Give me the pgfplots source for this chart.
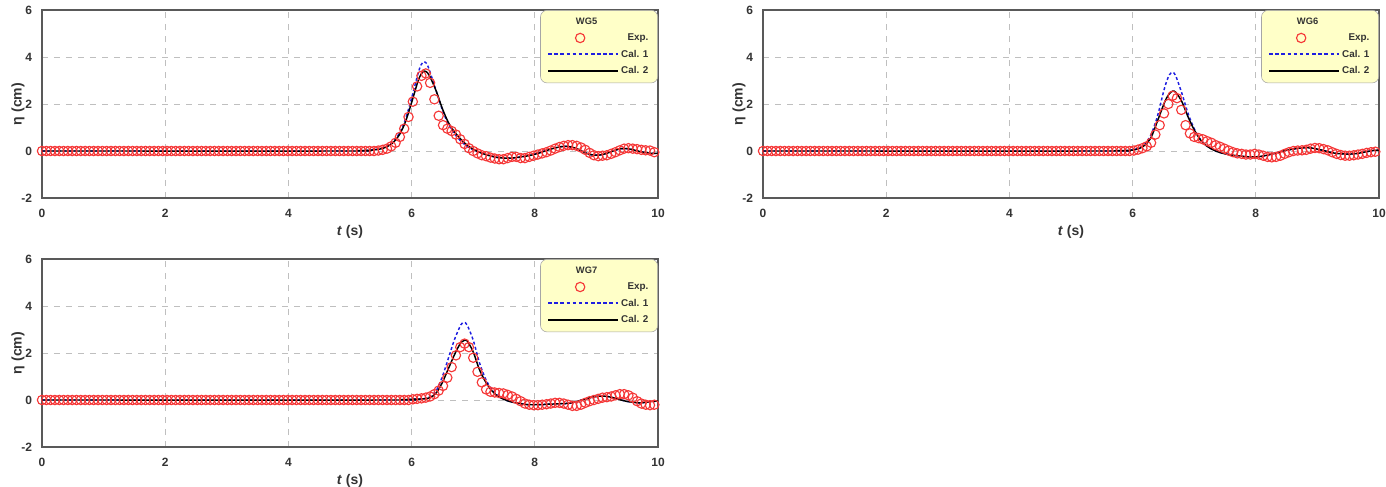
\documentclass[border=0pt]{standalone}
\usepackage{fontspec}
\setmainfont{Liberation Sans}
\usepackage{pgfplots}
\usepackage{pgfplotstable}
\pgfplotsset{compat=1.18}
\definecolor{expred}{RGB}{245,55,55}
\definecolor{calblue}{RGB}{30,30,225}
\definecolor{legfill}{RGB}{255,255,200}

\pgfplotstableread[row sep=\\]{
t y\\
0 0\\ 0.07 0\\ 0.14 0\\ 0.21 0\\ 0.28 0\\ 0.35 0\\ 0.42 0\\ 0.49 0\\ 0.56 0\\ 0.63 0\\
0.70 0\\ 0.77 0\\ 0.84 0\\ 0.91 0\\ 0.98 0\\ 1.05 0\\ 1.12 0\\ 1.19 0\\ 1.26 0\\ 1.33 0\\
1.40 0\\ 1.47 0\\ 1.54 0\\ 1.61 0\\ 1.68 0\\ 1.75 0\\ 1.82 0\\ 1.89 0\\ 1.96 0\\ 2.03 0\\
2.10 0\\ 2.17 0\\ 2.24 0\\ 2.31 0\\ 2.38 0\\ 2.45 0\\ 2.52 0\\ 2.59 0\\ 2.66 0\\ 2.73 0\\
2.80 0\\ 2.87 0\\ 2.94 0\\ 3.01 0\\ 3.08 0\\ 3.15 0\\ 3.22 0\\ 3.29 0\\ 3.36 0\\ 3.43 0\\
3.50 0\\ 3.57 0\\ 3.64 0\\ 3.71 0\\ 3.78 0\\ 3.85 0\\ 3.92 0\\ 3.99 0\\ 4.06 0\\ 4.13 0\\
4.20 0\\ 4.27 0\\ 4.34 0\\ 4.41 0\\ 4.48 0\\ 4.55 0\\ 4.62 0\\ 4.69 0\\ 4.76 0\\ 4.83 0\\
4.90 0\\ 4.97 0\\ 5.04 0\\ 5.11 0\\ 5.18 0\\ 5.25 0\\ 5.32 0\\
5.39 0\\ 5.46 0.02\\ 5.53 0.05\\ 5.60 0.1\\ 5.67 0.2\\ 5.74 0.35\\ 5.81 0.6\\ 5.88 0.95\\ 5.95 1.45\\ 6.02 2.1\\
6.09 2.75\\ 6.16 3.2\\ 6.23 3.3\\ 6.30 2.9\\ 6.37 2.2\\ 6.44 1.5\\ 6.51 1.1\\ 6.58 0.95\\ 6.65 0.85\\ 6.72 0.7\\
6.79 0.5\\ 6.86 0.3\\ 6.93 0.12\\ 7.00 0.0\\ 7.07 -0.1\\ 7.14 -0.18\\ 7.21 -0.22\\ 7.28 -0.28\\ 7.35 -0.32\\ 7.42 -0.35\\
7.49 -0.35\\ 7.56 -0.3\\ 7.63 -0.25\\ 7.70 -0.25\\ 7.77 -0.3\\ 7.84 -0.3\\ 7.91 -0.25\\ 7.98 -0.2\\ 8.05 -0.15\\ 8.12 -0.1\\
8.19 -0.05\\ 8.26 0.02\\ 8.33 0.1\\ 8.40 0.17\\ 8.47 0.22\\ 8.54 0.25\\ 8.61 0.25\\ 8.68 0.22\\ 8.75 0.15\\ 8.82 0.05\\
8.89 -0.08\\ 8.96 -0.18\\ 9.03 -0.22\\ 9.10 -0.2\\ 9.17 -0.18\\ 9.24 -0.12\\ 9.31 -0.05\\ 9.38 0.03\\ 9.45 0.1\\ 9.52 0.12\\
9.59 0.1\\ 9.66 0.08\\ 9.73 0.05\\ 9.80 0.03\\ 9.87 0.02\\ 9.94 -0.05\\
}\expA

\pgfplotstableread[row sep=\\]{
t y\\
0 0\\ 0.07 0\\ 0.14 0\\ 0.21 0\\ 0.28 0\\ 0.35 0\\ 0.42 0\\ 0.49 0\\ 0.56 0\\ 0.63 0\\
0.70 0\\ 0.77 0\\ 0.84 0\\ 0.91 0\\ 0.98 0\\ 1.05 0\\ 1.12 0\\ 1.19 0\\ 1.26 0\\ 1.33 0\\
1.40 0\\ 1.47 0\\ 1.54 0\\ 1.61 0\\ 1.68 0\\ 1.75 0\\ 1.82 0\\ 1.89 0\\ 1.96 0\\ 2.03 0\\
2.10 0\\ 2.17 0\\ 2.24 0\\ 2.31 0\\ 2.38 0\\ 2.45 0\\ 2.52 0\\ 2.59 0\\ 2.66 0\\ 2.73 0\\
2.80 0\\ 2.87 0\\ 2.94 0\\ 3.01 0\\ 3.08 0\\ 3.15 0\\ 3.22 0\\ 3.29 0\\ 3.36 0\\ 3.43 0\\
3.50 0\\ 3.57 0\\ 3.64 0\\ 3.71 0\\ 3.78 0\\ 3.85 0\\ 3.92 0\\ 3.99 0\\ 4.06 0\\ 4.13 0\\
4.20 0\\ 4.27 0\\ 4.34 0\\ 4.41 0\\ 4.48 0\\ 4.55 0\\ 4.62 0\\ 4.69 0\\ 4.76 0\\ 4.83 0\\
4.90 0\\ 4.97 0\\ 5.04 0\\ 5.11 0\\ 5.18 0\\ 5.25 0\\ 5.32 0\\ 5.39 0\\ 5.46 0\\ 5.53 0\\
5.60 0\\ 5.67 0\\ 5.74 0\\ 5.81 0\\ 5.88 0\\ 5.95 0\\
6.02 0.02\\ 6.09 0.06\\ 6.16 0.12\\ 6.23 0.2\\ 6.30 0.35\\ 6.37 0.7\\ 6.44 1.1\\ 6.51 1.6\\ 6.58 2.0\\ 6.65 2.35\\
6.72 2.25\\ 6.79 1.75\\ 6.86 1.1\\ 6.93 0.75\\ 7.00 0.6\\ 7.07 0.55\\ 7.14 0.5\\ 7.21 0.42\\ 7.28 0.35\\ 7.35 0.25\\
7.42 0.18\\ 7.49 0.1\\ 7.56 0.02\\ 7.63 -0.05\\ 7.70 -0.1\\ 7.77 -0.12\\ 7.84 -0.15\\ 7.91 -0.15\\ 7.98 -0.12\\ 8.05 -0.15\\
8.12 -0.2\\ 8.19 -0.25\\ 8.26 -0.27\\ 8.33 -0.25\\ 8.40 -0.2\\ 8.47 -0.12\\ 8.54 -0.05\\ 8.61 0.0\\ 8.68 0.02\\ 8.75 0.03\\
8.82 0.05\\ 8.89 0.1\\ 8.96 0.13\\ 9.03 0.12\\ 9.10 0.08\\ 9.17 0.03\\ 9.24 -0.05\\ 9.31 -0.12\\ 9.38 -0.17\\ 9.45 -0.2\\
9.52 -0.2\\ 9.59 -0.18\\ 9.66 -0.15\\ 9.73 -0.12\\ 9.80 -0.08\\ 9.87 -0.05\\ 9.94 -0.03\\
}\expB

\pgfplotstableread[row sep=\\]{
t y\\
0 0\\ 0.07 0\\ 0.14 0\\ 0.21 0\\ 0.28 0\\ 0.35 0\\ 0.42 0\\ 0.49 0\\ 0.56 0\\ 0.63 0\\
0.70 0\\ 0.77 0\\ 0.84 0\\ 0.91 0\\ 0.98 0\\ 1.05 0\\ 1.12 0\\ 1.19 0\\ 1.26 0\\ 1.33 0\\
1.40 0\\ 1.47 0\\ 1.54 0\\ 1.61 0\\ 1.68 0\\ 1.75 0\\ 1.82 0\\ 1.89 0\\ 1.96 0\\ 2.03 0\\
2.10 0\\ 2.17 0\\ 2.24 0\\ 2.31 0\\ 2.38 0\\ 2.45 0\\ 2.52 0\\ 2.59 0\\ 2.66 0\\ 2.73 0\\
2.80 0\\ 2.87 0\\ 2.94 0\\ 3.01 0\\ 3.08 0\\ 3.15 0\\ 3.22 0\\ 3.29 0\\ 3.36 0\\ 3.43 0\\
3.50 0\\ 3.57 0\\ 3.64 0\\ 3.71 0\\ 3.78 0\\ 3.85 0\\ 3.92 0\\ 3.99 0\\ 4.06 0\\ 4.13 0\\
4.20 0\\ 4.27 0\\ 4.34 0\\ 4.41 0\\ 4.48 0\\ 4.55 0\\ 4.62 0\\ 4.69 0\\ 4.76 0\\ 4.83 0\\
4.90 0\\ 4.97 0\\ 5.04 0\\ 5.11 0\\ 5.18 0\\ 5.25 0\\ 5.32 0\\ 5.39 0\\ 5.46 0\\ 5.53 0\\
5.60 0\\ 5.67 0\\ 5.74 0\\ 5.81 0\\ 5.88 0\\ 5.95 0\\
6.02 0.03\\ 6.09 0.05\\ 6.16 0.07\\ 6.23 0.1\\ 6.30 0.15\\ 6.37 0.25\\ 6.44 0.4\\ 6.51 0.6\\ 6.58 0.95\\ 6.65 1.4\\
6.72 1.9\\ 6.79 2.25\\ 6.86 2.4\\ 6.93 2.25\\ 7.00 1.8\\ 7.07 1.2\\ 7.14 0.75\\ 7.21 0.45\\ 7.28 0.35\\ 7.35 0.32\\
7.42 0.3\\ 7.49 0.28\\ 7.56 0.22\\ 7.63 0.15\\ 7.70 0.05\\ 7.77 -0.05\\ 7.84 -0.15\\ 7.91 -0.2\\ 7.98 -0.22\\ 8.05 -0.22\\
8.12 -0.2\\ 8.19 -0.18\\ 8.26 -0.15\\ 8.33 -0.12\\ 8.40 -0.12\\ 8.47 -0.15\\ 8.54 -0.2\\ 8.61 -0.25\\ 8.68 -0.25\\ 8.75 -0.2\\
8.82 -0.12\\ 8.89 -0.05\\ 8.96 0.0\\ 9.03 0.05\\ 9.10 0.1\\ 9.17 0.12\\ 9.24 0.15\\ 9.31 0.2\\ 9.38 0.25\\ 9.45 0.25\\
9.52 0.2\\ 9.59 0.1\\ 9.66 -0.05\\ 9.73 -0.15\\ 9.80 -0.2\\ 9.87 -0.22\\ 9.94 -0.2\\
}\expC

\pgfplotstableread[row sep=\\]{
t c1 c2\\
0 0 0\\ 5.0 0 0\\ 5.1 0.01 0.01\\ 5.2 0.02 0.02\\ 5.3 0.03 0.03\\ 5.4 0.06 0.05\\
5.5 0.11 0.09\\ 5.6 0.2 0.18\\ 5.7 0.4 0.36\\ 5.8 0.75 0.68\\ 5.9 1.35 1.24\\ 6.0 2.25 2.06\\
6.1 3.25 2.94\\ 6.15 3.65 3.25\\ 6.2 3.8 3.4\\ 6.25 3.7 3.35\\ 6.3 3.35 3.15\\ 6.4 2.55 2.55\\
6.5 1.75 1.8\\ 6.6 1.12 1.2\\ 6.7 0.72 0.8\\ 6.8 0.42 0.5\\ 6.9 0.2 0.25\\ 7.0 0.05 0.08\\
7.1 -0.06 -0.05\\ 7.2 -0.15 -0.15\\ 7.3 -0.22 -0.22\\ 7.4 -0.27 -0.28\\ 7.5 -0.3 -0.3\\ 7.6 -0.3 -0.3\\
7.7 -0.28 -0.28\\ 7.8 -0.24 -0.24\\ 7.9 -0.19 -0.2\\ 8.0 -0.13 -0.14\\ 8.1 -0.05 -0.06\\ 8.2 0.04 0.03\\
8.3 0.12 0.11\\ 8.4 0.18 0.17\\ 8.5 0.2 0.2\\ 8.6 0.16 0.17\\ 8.7 0.07 0.08\\ 8.8 -0.06 -0.05\\
8.9 -0.15 -0.15\\ 9.0 -0.18 -0.18\\ 9.1 -0.15 -0.15\\ 9.2 -0.07 -0.07\\ 9.3 0.03 0.03\\ 9.4 0.1 0.1\\
9.5 0.1 0.1\\ 9.6 0.05 0.05\\ 9.7 -0.02 -0.02\\ 9.8 -0.07 -0.07\\ 9.9 -0.1 -0.1\\ 10.0 -0.1 -0.1\\
}\calA

\pgfplotstableread[row sep=\\]{
t c1 c2\\
0 0 0\\ 5.6 0 0\\ 5.7 0.01 0.01\\ 5.8 0.02 0.02\\ 5.9 0.03 0.02\\ 6.0 0.05 0.04\\
6.1 0.12 0.1\\ 6.2 0.3 0.25\\ 6.3 0.7 0.58\\ 6.4 1.45 1.25\\ 6.5 2.5 1.95\\ 6.55 2.95 2.25\\
6.6 3.25 2.45\\ 6.65 3.35 2.55\\ 6.7 3.2 2.5\\ 6.8 2.45 2.1\\ 6.9 1.6 1.45\\ 7.0 0.95 0.9\\
7.1 0.5 0.48\\ 7.2 0.22 0.22\\ 7.3 0.06 0.06\\ 7.4 -0.05 -0.05\\ 7.5 -0.12 -0.12\\ 7.6 -0.17 -0.17\\
7.7 -0.2 -0.2\\ 7.8 -0.23 -0.23\\ 7.9 -0.25 -0.25\\ 8.0 -0.25 -0.25\\ 8.1 -0.22 -0.22\\ 8.2 -0.17 -0.17\\
8.3 -0.1 -0.1\\ 8.4 -0.03 -0.03\\ 8.5 0.03 0.03\\ 8.6 0.08 0.08\\ 8.7 0.12 0.12\\ 8.8 0.14 0.14\\
8.9 0.13 0.13\\ 9.0 0.08 0.08\\ 9.1 0.02 0.02\\ 9.2 -0.05 -0.05\\ 9.3 -0.1 -0.1\\ 9.4 -0.12 -0.12\\
9.5 -0.13 -0.13\\ 9.6 -0.12 -0.12\\ 9.7 -0.08 -0.08\\ 9.8 -0.03 -0.03\\ 9.9 0.02 0.02\\ 10.0 0.04 0.04\\
}\calB

\pgfplotstableread[row sep=\\]{
t c1 c2\\
0 0 0\\ 5.7 0 0\\ 5.8 0.01 0.01\\ 5.9 0.02 0.02\\ 6.0 0.03 0.03\\ 6.1 0.04 0.04\\
6.2 0.06 0.05\\ 6.3 0.15 0.1\\ 6.4 0.4 0.3\\ 6.5 1.0 0.75\\ 6.6 1.8 1.35\\ 6.7 2.6 1.95\\
6.8 3.2 2.45\\ 6.85 3.3 2.53\\ 6.9 3.2 2.52\\ 7.0 2.55 2.05\\ 7.1 1.6 1.3\\ 7.2 0.9 0.78\\
7.3 0.45 0.4\\ 7.4 0.18 0.16\\ 7.5 0.03 0.03\\ 7.6 -0.07 -0.07\\ 7.7 -0.12 -0.12\\ 7.8 -0.17 -0.17\\
7.9 -0.2 -0.2\\ 8.0 -0.2 -0.2\\ 8.1 -0.2 -0.2\\ 8.2 -0.18 -0.18\\ 8.3 -0.17 -0.17\\ 8.4 -0.16 -0.16\\
8.5 -0.15 -0.15\\ 8.6 -0.12 -0.12\\ 8.7 -0.05 -0.05\\ 8.8 0.03 0.03\\ 8.9 0.1 0.1\\ 9.0 0.15 0.15\\
9.1 0.17 0.17\\ 9.2 0.14 0.14\\ 9.3 0.08 0.08\\ 9.4 0.0 0.0\\ 9.5 -0.06 -0.06\\ 9.6 -0.1 -0.1\\
9.7 -0.12 -0.12\\ 9.8 -0.1 -0.1\\ 9.9 -0.06 -0.06\\ 10.0 -0.05 -0.05\\
}\calC

\pgfplotsset{
  wgaxis/.style={
    width=462pt, height=141pt, scale only axis,
    xmin=0, xmax=10, ymin=-2, ymax=6,
    xtick={0,2,...,10}, ytick={-2,0,...,6},
    grid=major,
    major grid style={gray!50, dash pattern=on 4.5pt off 4.5pt, line width=0.6pt},
    major tick length=0pt,
    axis line style={black!65, line width=0.9pt},
    /pgf/number format/assume math mode=true,
    ticklabel style={font=\bfseries\fontsize{9}{10}\selectfont, text=black!80},
    xticklabel style={yshift=-5pt},
    yticklabel style={xshift=-4pt},
    xlabel={\textit{t} (s)}, ylabel={η (cm)},
    every axis x label/.style={at={(axis description cs:0.5,-0.181)}, anchor=center,
      font=\bfseries\fontsize{10.5}{12}\selectfont, text=black!80},
    every axis y label/.style={at={(axis description cs:-0.039,0.5)}, anchor=center, rotate=90,
      font=\bfseries\fontsize{10.5}{12}\selectfont, text=black!80},
    legend style={at={(1,1)}, anchor=north east, draw=gray!70, fill=legfill,
      rounded corners=5pt, font=\bfseries\fontsize{7.4}{9}\selectfont, text=black!80,
      inner xsep=5pt, inner ysep=3.5pt, row sep=1.6pt},
    legend cell align=right,
  },
  expstyle/.style={only marks, mark=o, mark size=3.5pt, draw=expred, mark options={line width=0.85pt, draw=expred},
    legend image code/.code={\draw[mark repeat=2,mark phase=2,##1] plot coordinates {(0pt,0pt)(24pt,0pt)(48pt,0pt)};}},
  cal1style/.style={no marks, calblue, line width=1.1pt, dash pattern=on 2.2pt off 1.8pt, smooth, tension=0.5,
    legend image code/.code={\draw[calblue, line width=1.5pt, dash pattern=on 2.6pt off 2pt] (0pt,0pt) -- (52pt,0pt);}},
  cal2style/.style={no marks, black, line width=1.1pt, smooth, tension=0.5,
    legend image code/.code={\draw[black, line width=1.3pt] (0pt,0pt) -- (52pt,0pt);}},
}

\newcommand{\wgtitle}[1]{\addlegendimage{legend image code/.code={\node[font=\bfseries\fontsize{7}{8}\selectfont, text=black!80] at (39pt,0pt) {#1};}}\addlegendentry{}}

\begin{document}
\begin{tikzpicture}
\useasboundingbox (0,0) rectangle (1039.5pt,-364.5pt);
\begin{axis}[wgaxis, at={(31.5pt,-148.5pt)}, anchor=south west]
\wgtitle{WG5}
\addplot[expstyle] table[x=t,y=y] {\expA}; \addlegendentry{Exp.}
\addplot[cal1style] table[x=t,y=c1] {\calA}; \addlegendentry{Cal. 1}
\addplot[cal2style] table[x=t,y=c2] {\calA}; \addlegendentry{Cal. 2}
\end{axis}
\begin{axis}[wgaxis, at={(572.25pt,-148.5pt)}, anchor=south west]
\wgtitle{WG6}
\addplot[expstyle] table[x=t,y=y] {\expB}; \addlegendentry{Exp.}
\addplot[cal1style] table[x=t,y=c1] {\calB}; \addlegendentry{Cal. 1}
\addplot[cal2style] table[x=t,y=c2] {\calB}; \addlegendentry{Cal. 2}
\end{axis}
\begin{axis}[wgaxis, at={(31.5pt,-335.25pt)}, anchor=south west]
\wgtitle{WG7}
\addplot[expstyle] table[x=t,y=y] {\expC}; \addlegendentry{Exp.}
\addplot[cal1style] table[x=t,y=c1] {\calC}; \addlegendentry{Cal. 1}
\addplot[cal2style] table[x=t,y=c2] {\calC}; \addlegendentry{Cal. 2}
\end{axis}
\end{tikzpicture}
\end{document}
